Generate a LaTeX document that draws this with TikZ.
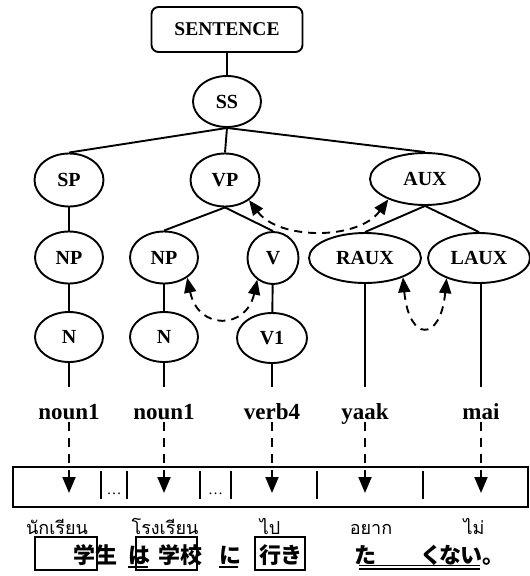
\documentclass[tikz,border=0pt]{standalone}
\usepackage{fontspec}
\setmainfont{Liberation Serif}
\newfontfamily\thaifont[Script=Thai]{Loma}
\newfontfamily\jpfont[RawFeature=+palt]{Noto Sans CJK JP}
\usetikzlibrary{arrows.meta,shapes.geometric}
\begin{document}
\begin{tikzpicture}[x=1pt,y=-1pt,line width=1.9pt,
  el/.style={ellipse,draw,inner sep=0pt,minimum height=52pt,font=\fontsize{20}{20}\selectfont\bfseries},
  lab/.style={inner xsep=0pt,inner ysep=2pt,text height=29pt,text depth=0pt,anchor=base,font=\fontsize{23}{23}\selectfont\bfseries},
  dsh/.style={dash pattern=on 9pt off 7pt},
  darr/.style={dsh,-{Triangle[length=16pt,width=13pt]}},
  dd/.style={dash pattern=on 8pt off 6pt,{Triangle[length=15pt,width=12pt]}-{Triangle[length=15pt,width=12pt]}},
  thai/.style={anchor=base,inner sep=0pt,font=\thaifont\fontsize{18}{18}\selectfont},
  jp/.style={anchor=base,inner sep=0pt,font=\jpfont\bfseries\fontsize{22}{22}\selectfont},
  jbox/.style={line width=1.4pt},
  uline/.style={line width=1.1pt}]
\useasboundingbox (0,0) rectangle (530,576);
% tree nodes
\node[draw,rounded corners=7pt,minimum width=151pt,minimum height=45pt,inner sep=0pt,
      font=\fontsize{19.5}{19.5}\selectfont\bfseries] (sent) at (227,29.5) {SENTENCE};
\node[el,minimum width=68pt,minimum height=51pt] (SS) at (227,101.5) {SS};
\node[el,minimum width=69pt,minimum height=53pt] (SP) at (69,180) {SP};
\node[el,minimum width=69pt,minimum height=53pt] (VP) at (225,180) {VP};
\node[el,minimum width=110pt,minimum height=52pt] (AUX) at (425,179) {AUX};
\node[el,minimum width=68pt] (NPa) at (69,257.5) {NP};
\node[el,minimum width=68pt] (NPb) at (164,257.5) {NP};
\node[el,minimum width=51pt] (V) at (273,258) {V};
\node[el,minimum width=112pt,minimum height=50pt] (RAUX) at (365,258) {RAUX};
\node[el,minimum width=102pt,minimum height=50pt] (LAUX) at (479,258) {LAUX};
\node[el,minimum width=68pt,minimum height=50pt] (Na) at (69,337) {N};
\node[el,minimum width=68pt,minimum height=50pt] (Nb) at (164,337) {N};
\node[el,minimum width=70pt,minimum height=50pt] (V1) at (272,338) {V1};
% word labels
\node[lab] (w1) at (69,419) {noun1};
\node[lab] (w2) at (164,419) {noun1};
\node[lab] (w3) at (272,419) {verb4};
\node[lab] (w4) at (365,419) {yaak};
\node[lab] (w5) at (481,419) {mai};
% tree edges
\draw (sent) -- (SS);
\draw (SS.south) -- (SP.north);
\draw (SS.south) -- (VP.north);
\draw (SS.south) -- (AUX.north);
\draw (VP.south) -- (NPb.north);
\draw (VP.south) -- (V.north);
\draw (AUX.south) -- (RAUX.north);
\draw (AUX.south) -- (LAUX.north);
\draw (SP) -- (NPa);
\draw (NPa) -- (Na);
\draw (NPb) -- (Nb);
\draw (V) -- (V1);
\draw (Na) -- (w1);
\draw (Nb) -- (w2);
\draw (V1.south) -- (w3.north);
\draw (RAUX) -- (w4);
\draw (LAUX.south -| w5.north) -- (w5.north);
% dashed movement arrows
\draw[dd] (VP.-40) .. controls +(30,40) and +(-30,41) .. (AUX.-151);
\draw[dd] (NPb.-41) .. controls +(11,53) and +(-11,50) .. (V.-126);
\draw[dd] (RAUX.-27) .. controls +(6,65) and +(-6,64) .. (LAUX.-148);
% slot box
\node[draw,minimum width=515pt,minimum height=40pt,inner sep=0pt] (box) at (270.5,487) {};
\foreach \x in {101,127,200,231,317,423} \draw (\x,471) -- (\x,499);
\node[anchor=base,inner sep=0pt,font=\fontsize{15}{15}\selectfont] (e1) at (114,494) {…};
\node[anchor=base,inner sep=0pt,font=\fontsize{15}{15}\selectfont] (e2) at (215.5,494) {…};
\coordinate (t1) at (69,493);
\coordinate (t2) at (164,493);
\coordinate (t3) at (272,493);
\coordinate (t4) at (365,493);
\coordinate (t5) at (481,493);
\draw[darr] (w1.south) -- (t1);
\draw[darr] (w2.south) -- (t2);
\draw[darr] (w3.south) -- (t3);
\draw[darr] (w4.south) -- (t4);
\draw[darr] (w5.south) -- (t5);
% Thai words
\node[thai] (th1) at (57,534) {นักเรียน};
\node[thai] (th2) at (165,534) {โรงเรียน};
\node[thai] (th3) at (270,534) {ไป};
\node[thai] (th4) at (371,534) {อยาก};
\node[thai] (th5) at (474,534) {ไม่};
% Japanese
\draw[jbox] (35,537) rectangle (97,570);
\draw[jbox] (136,537) rectangle (197,570);
\draw[jbox] (255,537) rectangle (305,570);
\node[jp] (j1) at (95,563) {学生};
\node[jp] (j2) at (139,563) {は};
\node[jp] (j3) at (180,563) {学校};
\node[jp] (j4) at (230,563) {に};
\node[jp] (j5) at (280,563) {行き};
\node[jp] (j6) at (366,563) {た};
\node[jp] (j7) at (458,563) {くない。};
\draw[uline] (128,567) -- (148,567);
\draw[uline] (219,567) -- (238,567);
\draw[uline] (359,565.5) -- (480,565.5);
\draw[uline] (359,569) -- (480,569);
\end{tikzpicture}
\end{document}
